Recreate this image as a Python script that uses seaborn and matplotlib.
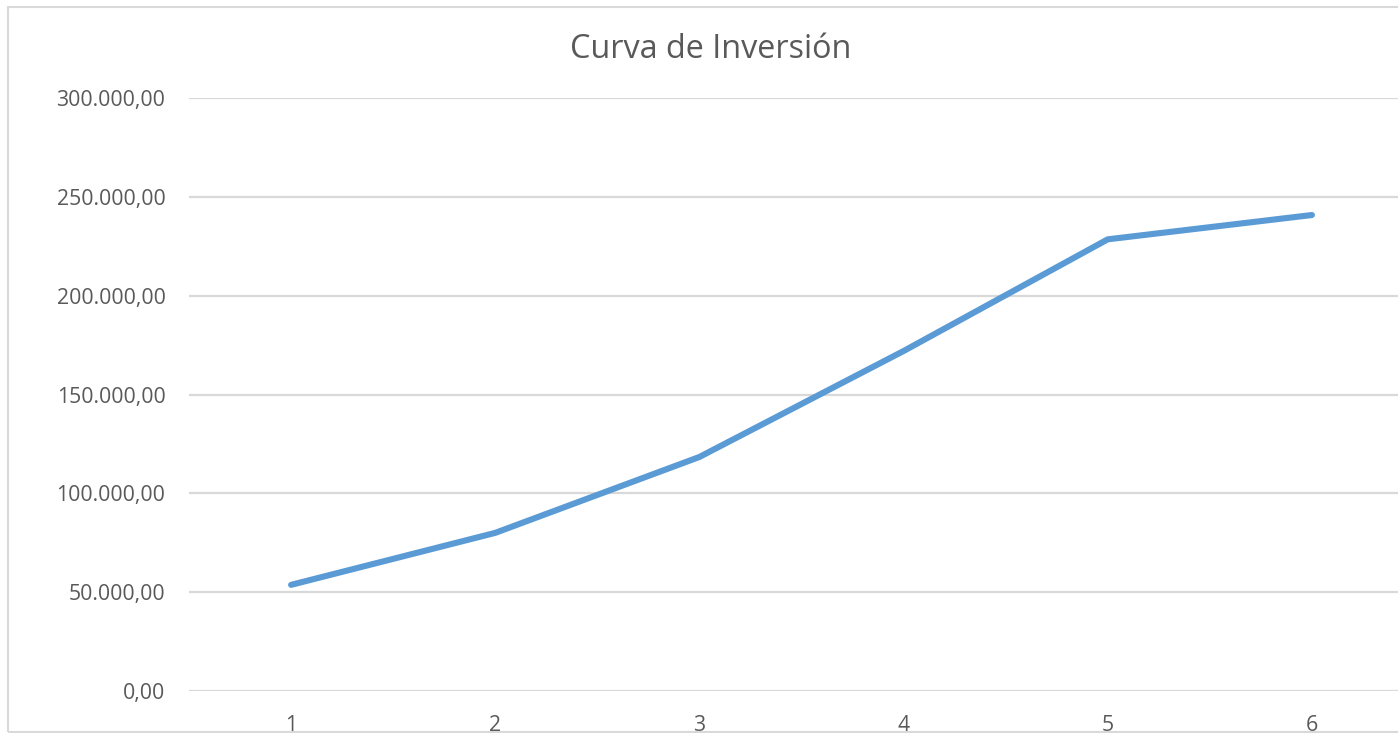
import matplotlib
matplotlib.use("Agg")
import matplotlib.pyplot as plt
import matplotlib.ticker as mticker
from matplotlib.patches import Rectangle
import seaborn as sns
import pandas as pd

# Investment curve data
periodos = ["1", "2", "3", "4", "5", "6"]
inversion = [53700, 80000, 118400, 172000, 228500, 240800]
y_ticks = [0, 50000, 100000, 150000, 200000, 250000, 300000]

df = pd.DataFrame({"Periodo": periodos, "Inversión": inversion})

sns.set_theme(style="white")
plt.rcParams["font.family"] = ["Open Sans", "DejaVu Sans"]

W, H = 1398, 733
fig = plt.figure(figsize=(W / 100, H / 100), dpi=100)

# Plot area in pixel terms (extends past the right edge of the canvas)
left_px, right_px, top_px, bottom_px = 189, 1414, 98, 691
ax = fig.add_axes([left_px / W, 1 - bottom_px / H,
                   (right_px - left_px) / W, (bottom_px - top_px) / H])

sns.lineplot(data=df, x="Periodo", y="Inversión", ax=ax, sort=False,
             color="#5B9BD5", linewidth=4.4, solid_capstyle="round",
             solid_joinstyle="round", zorder=3)

ax.set_xlim(-0.5, len(periodos) - 0.5)
ax.set_ylim(0, 300000)
ax.set_yticks(y_ticks)


def fmt_es(v, pos=None):
    s = f"{v:,.2f}"
    return s.replace(",", "X").replace(".", ",").replace("X", ".")


ax.yaxis.set_major_formatter(mticker.FuncFormatter(fmt_es))
ax.grid(axis="y", color="#D9D9D9", linewidth=1.6, zorder=0)
ax.grid(axis="x", visible=False)
for s in ax.spines.values():
    s.set_visible(False)

ax.tick_params(axis="both", length=0, labelsize=15.3, labelcolor="#595959")
ax.tick_params(axis="y", pad=17)
ax.tick_params(axis="x", pad=17)
ax.set_xlabel("")
ax.set_ylabel("")

fig.text(711 / W, 1 - 50 / H, "Curva de Inversión", ha="center", va="center",
         fontsize=23.3, color="#595959")

# Chart frame
fig.patches.append(Rectangle((8 / W, 1 - 732 / H), 1.2, (732 - 7) / H,
                             transform=fig.transFigure, fill=False,
                             edgecolor="#D9D9D9", linewidth=1.5))

fig.savefig("out.png", dpi=100, facecolor="white")
